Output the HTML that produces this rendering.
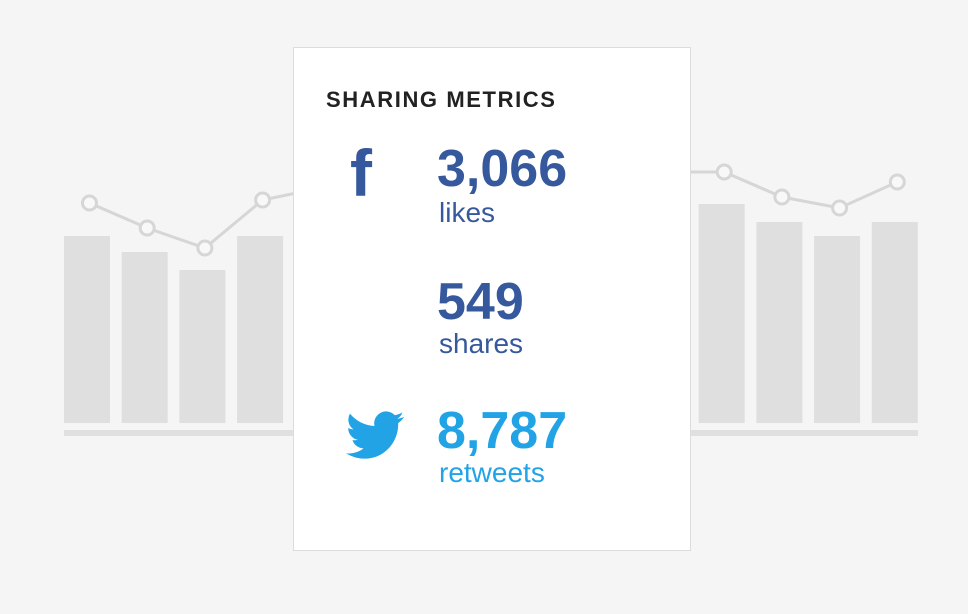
<!DOCTYPE html>
<html><head><meta charset="utf-8"><style>
html,body{margin:0;padding:0;background:#f5f5f5;}
svg{display:block;font-family:"Liberation Sans",Arial,sans-serif;}
</style></head><body>
<svg id="chart" width="968" height="614" viewBox="0 0 968 614">
<rect x="0" y="0" width="968" height="614" fill="#f5f5f5"/>
<g id="bars"></g>
<rect x="64" y="430" width="854" height="6" fill="#e0e0e0"/>
<g id="line"></g>
<g>
<rect x="293.5" y="47.5" width="397" height="503" fill="#ffffff" stroke="#dcdcdc" stroke-width="1"/>
<text x="326" y="107" font-size="22" font-weight="bold" fill="#222" letter-spacing="1.6">SHARING METRICS</text>
<text x="350" y="196" font-size="66" font-weight="bold" fill="#36589c">f</text>
<text x="437" y="186" font-size="52" font-weight="bold" fill="#36589c">3,066</text>
<text x="439" y="222" font-size="28" fill="#36589c">likes</text>
<text x="437" y="319" font-size="52" font-weight="bold" fill="#36589c">549</text>
<text x="439" y="353" font-size="28" fill="#36589c">shares</text>
<path transform="translate(346,406) scale(2.42)" fill="#22a3e6" d="M23.954 4.569a10 10 0 01-2.825.775 4.958 4.958 0 002.163-2.723c-.951.555-2.005.959-3.127 1.184a4.92 4.92 0 00-8.384 4.482C7.691 8.094 4.066 6.13 1.64 3.161a4.822 4.822 0 00-.666 2.475c0 1.71.87 3.213 2.188 4.096a4.904 4.904 0 01-2.228-.616v.061a4.923 4.923 0 003.946 4.827 4.996 4.996 0 01-2.212.085 4.937 4.937 0 004.604 3.417 9.868 9.868 0 01-6.102 2.105c-.39 0-.779-.023-1.170-.067a13.995 13.995 0 007.557 2.209c9.054 0 13.999-7.496 13.999-13.986 0-.209 0-.42-.015-.63a9.936 9.936 0 002.46-2.548l-.047-.02z"/>
<text x="437" y="448" font-size="52" font-weight="bold" fill="#22a3e6">8,787</text>
<text x="439" y="482" font-size="28" fill="#22a3e6">retweets</text>
</g>
</svg>
<script>
const categories = ["1","2","3","4","5","6","7","8","9","10","11","12","13","14","15"];
const barValues = [187, 171, 153, 187, 195, 200, 205, 210, 215, 215, 215, 219, 201, 187, 201];
const lineValues = [220, 195, 175, 223, 235, 240, 245, 248, 250, 250, 251, 251, 226, 215, 241];

const svgNS = "http://www.w3.org/2000/svg";
const x0 = 64, step = 57.7, barW = 46, yBase = 423;
function xScale(i){ return x0 + i*step; }
function yScale(v){ return yBase - v; }

const barsG = document.getElementById('bars');
barValues.forEach((v,i)=>{
  const r = document.createElementNS(svgNS,'rect');
  r.setAttribute('x', xScale(i));
  r.setAttribute('y', yScale(v));
  r.setAttribute('width', barW);
  r.setAttribute('height', yBase - yScale(v));
  r.setAttribute('fill', '#dfdfdf');
  
  
  barsG.appendChild(r);
});

const lineG = document.getElementById('line');
const pts = lineValues.map((v,i)=>[xScale(i)+barW/2+2.5, yScale(v)]);
const pl = document.createElementNS(svgNS,'polyline');
pl.setAttribute('points', pts.map(p=>p.join(',')).join(' '));
pl.setAttribute('fill','none');
pl.setAttribute('stroke','#d6d6d6');
pl.setAttribute('stroke-width','3');


lineG.appendChild(pl);
pts.forEach((p,i)=>{
  const c = document.createElementNS(svgNS,'circle');
  c.setAttribute('cx', p[0]);
  c.setAttribute('cy', p[1]);
  c.setAttribute('r', 7);
  c.setAttribute('fill','#f8f8f8');
  c.setAttribute('stroke','#d6d6d6');
  c.setAttribute('stroke-width','3');
  
  
  lineG.appendChild(c);
});
</script>
</body></html>
